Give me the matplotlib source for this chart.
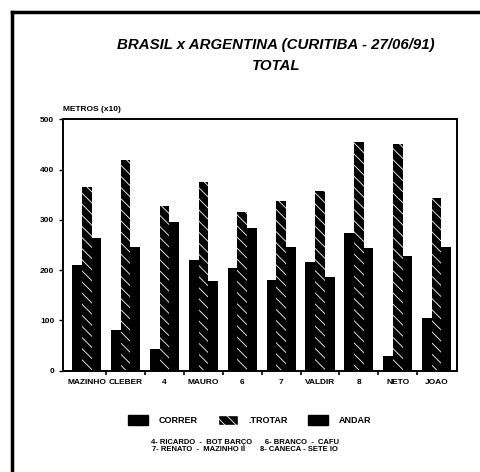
import matplotlib.pyplot as plt
import numpy as np
from matplotlib.patches import Patch
from matplotlib.lines import Line2D

# Dados (metros x10)
jogadores = ['MAZINHO', 'CLEBER', '4', 'MAURO', '6', '7', 'VALDIR', '8', 'NETO', 'JOAO']
correr = [211, 80, 44, 221, 204, 180, 217, 274, 29, 104]
trotar = [366, 419, 328, 376, 316, 338, 358, 455, 450, 343]
andar = [264, 246, 295, 178, 283, 246, 187, 245, 229, 247]
notas = ['4- RICARDO  -  BOT BARÇO      6- BRANCO  -  CAFU',
         '7- RENATO  -  MAZINHO II       8- CANECA - SETE IO']

plt.rcParams['font.family'] = ['Liberation Sans', 'DejaVu Sans']
plt.rcParams['hatch.linewidth'] = 0.6

fig = plt.figure(figsize=(4.8, 4.72), dpi=100)
ax = fig.add_axes([0.1306, 0.2146, 0.8209, 0.5327])

x = np.arange(len(jogadores))
w = 0.25

ax.bar(x - w, correr, w, color='black', linewidth=0)
ax.bar(x, trotar, w, color='black', linewidth=0)
ax.bar(x, trotar, w, facecolor='none', edgecolor='white', hatch='\\\\\\', linewidth=0)
ax.bar(x + w, andar, w, color='black', linewidth=0)

ax.set_xlim(-0.62, 9.52)
ax.set_ylim(0, 500)
ax.set_yticks([0, 100, 200, 300, 400, 500])
ax.set_xticks(x)
ax.set_xticklabels(jogadores, fontsize=6, fontweight='bold')
ax.set_xticks(x[:-1] + 0.5, minor=True)
ax.tick_params(axis='x', which='major', length=0, pad=6)
ax.tick_params(axis='x', which='minor', length=3, width=1.2, direction='out')
ax.tick_params(axis='y', labelsize=6, length=3, width=1, pad=3)
for lbl in ax.get_yticklabels():
    lbl.set_fontweight('bold')
for s in ax.spines.values():
    s.set_linewidth(1.4)

ax.text(0.0, 1.025, 'METROS (x10)', transform=ax.transAxes, fontsize=6,
        fontweight='bold', ha='left', va='bottom')

fig.text(0.575, 1 - 45 / 472, 'BRASIL x ARGENTINA (CURITIBA - 27/06/91)',
         fontsize=10.8, fontweight='bold', style='italic', ha='center', va='center')
fig.text(0.575, 1 - 66 / 472, 'TOTAL', fontsize=10.8, fontweight='bold',
         style='italic', ha='center', va='center')

# Legenda
handles = [Patch(facecolor='black', edgecolor='black'),
           Patch(facecolor='black', edgecolor='white', hatch='\\\\\\'),
           Patch(facecolor='black', edgecolor='black')]
fig.legend(handles, ['CORRER', '.TROTAR', 'ANDAR'], ncol=3, frameon=False,
           loc='center', bbox_to_anchor=(0.52, 1 - 420 / 472),
           prop={'size': 6.5, 'weight': 'bold'}, handlelength=2.2,
           handleheight=1.4, columnspacing=2.2, handletextpad=1.2)

fig.text(0.51, 1 - 446 / 472, '\n'.join(notas), fontsize=5.5, fontweight='bold',
         ha='center', va='center', linespacing=1.1)

# Moldura
fig.add_artist(Line2D([12 / 480, 12 / 480], [0, 1 - 12 / 472], color='black', lw=2.5))
fig.add_artist(Line2D([12 / 480, 478 / 480], [1 - 12 / 472, 1 - 12 / 472], color='black', lw=2.5))

fig.savefig('out.png', dpi=100)
